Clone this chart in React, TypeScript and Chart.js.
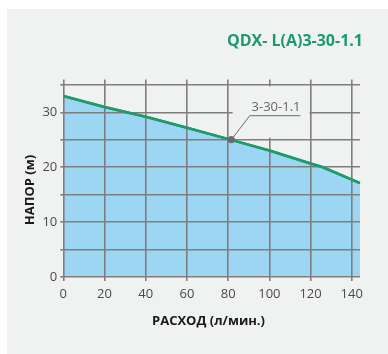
import React, { useEffect, useRef } from "react";
import { Chart, registerables } from "chart.js";

Chart.register(...registerables);

const flow = [0, 20, 40, 60, 81.5, 100, 120, 126, 144];
const head = [33, 31, 29.2, 27.2, 25, 23.05, 20.7, 20.0, 17.1];
const dutyFlow = [81.5];
const dutyHead = [25];
const dutyLabel = "3-30-1.1";
const chartTitle = "QDX- L(A)3-30-1.1";
const xTitle = "РАСХОД (л/мин.)";
const yTitle = "НАПОР (м)";
const xTickValues = [0, 20, 40, 60, 80, 100, 120, 140];
const yGridValues = [0, 5, 10, 15, 20, 25, 30, 35];
const yTickLabels: Record<number, string> = { 0: "0", 10: "10", 20: "20", 30: "30" };

const FONT = "'Open Sans', 'DejaVu Sans', sans-serif";
const PANEL = "#f0f1f1";

export default function App() {
  const ref = useRef<HTMLCanvasElement | null>(null);
  useEffect(() => {
    document.body.style.margin = "0";
    const canvas = ref.current!;
    const decor = {
      id: "decor",
      beforeDraw(chart: any) {
        const { ctx } = chart;
        ctx.save();
        ctx.fillStyle = "#ffffff";
        ctx.fillRect(0, 0, chart.width, chart.height);
        ctx.fillStyle = PANEL;
        ctx.fillRect(7, 9, chart.width - 7, chart.height - 9);
        ctx.fillStyle = "#1d9a6c";
        ctx.font = `bold 16px ${FONT}`;
        ctx.textAlign = "right";
        ctx.textBaseline = "alphabetic";
        ctx.fillText(chartTitle, 363, 46);
        ctx.fillStyle = "#1a1a1a";
        ctx.font = `bold 13px ${FONT}`;
        ctx.textAlign = "center";
        ctx.textBaseline = "middle";
        ctx.fillText(xTitle, 208.5, 321.5);
        ctx.translate(30, 190);
        ctx.rotate(-Math.PI / 2);
        ctx.fillText(yTitle, 0, 0);
        ctx.restore();
      },
      afterDraw(chart: any) {
        const { ctx } = chart;
        const xs = chart.scales.x;
        const ys = chart.scales.y;
        ctx.save();
        // label background box
        const bx1 = xs.getPixelForValue(82.2);
        const bx2 = xs.getPixelForValue(119.5);
        const by1 = ys.getPixelForValue(34.75);
        const by2 = ys.getPixelForValue(25.4);
        ctx.fillStyle = PANEL;
        ctx.fillRect(bx1, by1, bx2 - bx1, by2 - by1);
        // leader line
        const px = xs.getPixelForValue(dutyFlow[0]);
        const py = ys.getPixelForValue(dutyHead[0]);
        const kx = xs.getPixelForValue(90.5);
        const ky = ys.getPixelForValue(29.4);
        const ex = xs.getPixelForValue(115);
        ctx.strokeStyle = "#6b6b6b";
        ctx.lineWidth = 1;
        ctx.beginPath();
        ctx.moveTo(px, py);
        ctx.lineTo(kx, ky);
        ctx.lineTo(ex, ky);
        ctx.stroke();
        ctx.fillStyle = "#666666";
        ctx.font = `13px ${FONT}`;
        ctx.textAlign = "center";
        ctx.textBaseline = "alphabetic";
        ctx.fillText(dutyLabel, (kx + ex) / 2 + 1, ky - 4.5);
        ctx.restore();
        // redraw curve and point above the grid
        const m0 = chart.getDatasetMeta(0);
        m0.dataset.draw(ctx, chart.chartArea);
        const m1 = chart.getDatasetMeta(1);
        m1.data.forEach((el: any) => el.draw(ctx, chart.chartArea));
      },
    };
    const chart = new Chart(canvas, {
      type: "line",
      data: {
        datasets: [
          {
            data: flow.map((x, i) => ({ x, y: head[i] })),
            borderColor: "#1f9a6b",
            borderWidth: 2.5,
            backgroundColor: "#9dd6f2",
            fill: "origin",
            tension: 0,
            pointRadius: 0,
          },
          {
            data: dutyFlow.map((x, i) => ({ x, y: dutyHead[i] })),
            showLine: false,
            pointRadius: 3.5,
            pointBackgroundColor: "#6b6b6b",
            pointBorderWidth: 0,
            borderColor: "#6b6b6b",
          },
        ],
      },
      options: {
        responsive: false,
        animation: false,
        layout: { padding: { top: 79.5, right: 28, left: 0, bottom: 0 } },
        plugins: { legend: { display: false }, tooltip: { enabled: false } },
        scales: {
          x: {
            type: "linear",
            min: 0,
            max: 144,
            afterBuildTicks(scale: any) {
              scale.ticks = xTickValues.map((v) => ({ value: v }));
            },
            afterFit(scale: any) {
              scale.height = 77;
            },
            grid: { color: "#7e7e7e", lineWidth: 1.6, tickLength: 4, drawTicks: true, z: 1 },
            border: { display: false },
            ticks: {
              padding: 5,
              color: "#4a4a4a",
              font: { family: FONT, size: 13 },
              maxRotation: 0,
              callback: (v: any) => String(v),
            },
          },
          y: {
            type: "linear",
            min: 0,
            max: 36,
            afterBuildTicks(scale: any) {
              scale.ticks = yGridValues.map((v) => ({ value: v }));
            },
            afterFit(scale: any) {
              scale.width = 63.3;
            },
            grid: { color: "#7e7e7e", lineWidth: 1.6, tickLength: 3, z: 1 },
            border: { display: false },
            ticks: {
              padding: 3,
              color: "#4a4a4a",
              font: { family: FONT, size: 13 },
              callback: (v: any) => yTickLabels[v] ?? "",
            },
          },
        },
      },
      plugins: [decor],
    } as any);
    return () => chart.destroy();
  }, []);
  return (
    <div style={{ position: "fixed", left: 0, top: 0, width: 388, height: 354 }}>
      <canvas ref={ref} width={388} height={354} style={{ display: "block" }} />
    </div>
  );
}
